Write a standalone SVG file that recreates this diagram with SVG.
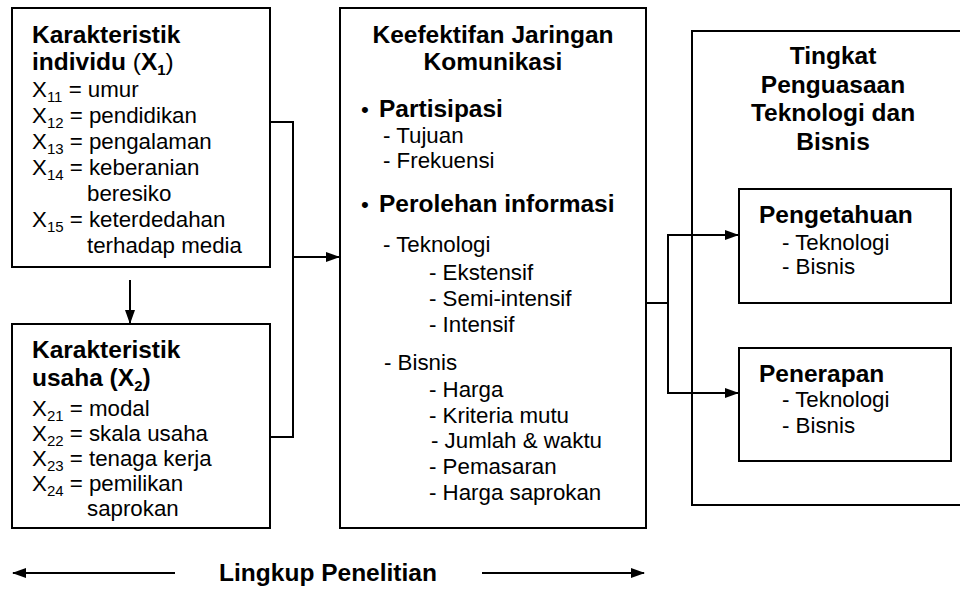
<svg xmlns="http://www.w3.org/2000/svg" width="960" height="589" viewBox="0 0 960 589">
<style>
text{font-family:"Liberation Sans",Arial,sans-serif;fill:#000}
.b{font-weight:bold;font-size:24.5px}
.r{font-size:22.3px}
.c{text-anchor:middle}
.box{fill:#fff;stroke:#000;stroke-width:2}
.ln{fill:none;stroke:#000;stroke-width:2}
.sub{font-size:15px}
</style>
<defs>
<marker id="ah" markerUnits="userSpaceOnUse" markerWidth="14" markerHeight="10" refX="13" refY="5" orient="auto">
<path d="M0,0 L14,5 L0,10 Z" fill="#000"/>
</marker>
</defs>
<rect width="960" height="589" fill="#fff"/>

<g id="node-x1">
<rect class="box" x="12" y="8" width="258" height="259"/>
<text class="b" x="32" y="43">Karakteristik</text>
<text class="b" x="32" y="70">individu <tspan font-weight="normal">(</tspan>X<tspan class="sub" dy="5">1</tspan><tspan dy="-5" font-weight="normal">)</tspan></text>
<text class="r" x="32" y="97">X<tspan class="sub" dy="5">11</tspan><tspan dy="-5"> = umur</tspan></text>
<text class="r" x="32" y="123">X<tspan class="sub" dy="5">12</tspan><tspan dy="-5"> = pendidikan</tspan></text>
<text class="r" x="32" y="149">X<tspan class="sub" dy="5">13</tspan><tspan dy="-5"> = pengalaman</tspan></text>
<text class="r" x="32" y="175">X<tspan class="sub" dy="5">14</tspan><tspan dy="-5"> = keberanian</tspan></text>
<text class="r" x="87" y="201">beresiko</text>
<text class="r" x="32" y="227">X<tspan class="sub" dy="5">15</tspan><tspan dy="-5"> = keterdedahan</tspan></text>
<text class="r" x="87" y="253">terhadap media</text>
</g>

<g id="node-x2">
<rect class="box" x="12" y="324" width="258" height="204"/>
<text class="b" x="32" y="358">Karakteristik</text>
<text class="b" x="32" y="386">usaha (X<tspan class="sub" dy="5">2</tspan><tspan dy="-5">)</tspan></text>
<text class="r" x="32" y="416">X<tspan class="sub" dy="5">21</tspan><tspan dy="-5"> = modal</tspan></text>
<text class="r" x="32" y="441">X<tspan class="sub" dy="5">22</tspan><tspan dy="-5"> = skala usaha</tspan></text>
<text class="r" x="32" y="466">X<tspan class="sub" dy="5">23</tspan><tspan dy="-5"> = tenaga kerja</tspan></text>
<text class="r" x="32" y="491">X<tspan class="sub" dy="5">24</tspan><tspan dy="-5"> = pemilikan</tspan></text>
<text class="r" x="87" y="516">saprokan</text>
</g>

<g id="node-y1">
<rect class="box" x="340" y="8" width="306" height="520"/>
<text class="b c" x="493" y="43">Keefektifan Jaringan</text>
<text class="b c" x="493" y="70">Komunikasi</text>
<text class="r" x="361" y="117">•</text>
<text class="b" x="379" y="117">Partisipasi</text>
<text class="r" x="383" y="143">- Tujuan</text>
<text class="r" x="383" y="168">- Frekuensi</text>
<text class="r" x="361" y="212">•</text>
<text class="b" x="379" y="212">Perolehan informasi</text>
<text class="r" x="383" y="252">- Teknologi</text>
<text class="r" x="429" y="280">- Ekstensif</text>
<text class="r" x="429" y="306">- Semi-intensif</text>
<text class="r" x="429" y="332">- Intensif</text>
<text class="r" x="384" y="370">-  Bisnis</text>
<text class="r" x="429" y="397">- Harga</text>
<text class="r" x="429" y="423">- Kriteria mutu</text>
<text class="r" x="431" y="448">- Jumlah &amp; waktu</text>
<text class="r" x="429" y="474">- Pemasaran</text>
<text class="r" x="429" y="500">- Harga saprokan</text>
</g>

<g id="node-y2">
<rect class="box" x="692" y="31" width="284" height="474"/>
<text class="b c" x="833" y="64">Tingkat</text>
<text class="b c" x="833" y="93">Penguasaan</text>
<text class="b c" x="833" y="121">Teknologi dan</text>
<text class="b c" x="833" y="150">Bisnis</text>
</g>

<g id="node-pengetahuan">
<rect class="box" x="739" y="189" width="212" height="114"/>
<text class="b" x="759" y="223">Pengetahuan</text>
<text class="r" x="782" y="250">- Teknologi</text>
<text class="r" x="782" y="274">- Bisnis</text>
</g>

<g id="node-penerapan">
<rect class="box" x="739" y="348" width="212" height="113"/>
<text class="b" x="759" y="382">Penerapan</text>
<text class="r" x="782" y="407">- Teknologi</text>
<text class="r" x="782" y="433">- Bisnis</text>
</g>

<g id="connectors">
<path class="ln" d="M270,122 H293 V437 H270"/>
<path class="ln" d="M293,257 H339" marker-end="url(#ah)"/>
<path class="ln" d="M130,280 V323" marker-end="url(#ah)"/>
<path class="ln" d="M646,303 H668"/>
<path class="ln" d="M668,235 V393"/>
<path class="ln" d="M667,235 H738" marker-end="url(#ah)"/>
<path class="ln" d="M667,393 H738" marker-end="url(#ah)"/>
<path class="ln" d="M175,573 H13" marker-end="url(#ah)"/>
<path class="ln" d="M482,573 H644" marker-end="url(#ah)"/>
</g>

<g id="label-scope">
<text class="b c" x="328" y="581">Lingkup Penelitian</text>
</g>
</svg>
